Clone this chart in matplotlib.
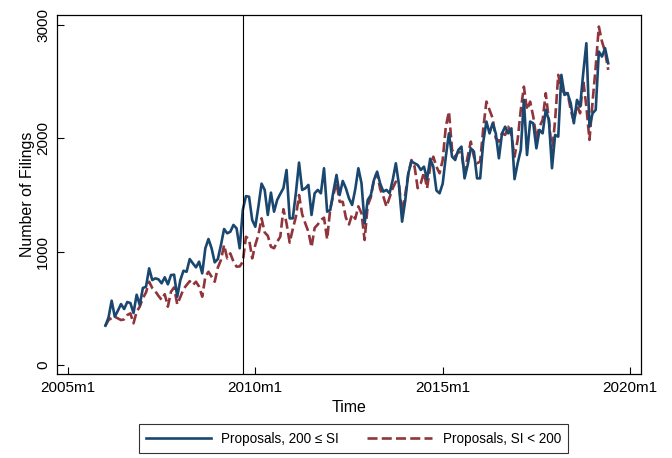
import numpy as np
import matplotlib
matplotlib.use("Agg")
import matplotlib.pyplot as plt

plt.rcParams['font.family'] = ['Liberation Sans', 'DejaVu Sans']

# Monthly filings; month index counted from 2005m1 (= 0)
start_month = 12   # 2006m1
event_month = 56   # 2009m9

large_si = [
    347, 420, 568, 426, 480, 538, 494, 556, 547, 459, 620, 530,
    680, 691, 853, 750, 765, 756, 721, 774, 712, 794, 797, 603,
    750, 832, 823, 935, 897, 862, 912, 809, 1030, 1112, 1030, 906,
    935, 1059, 1200, 1162, 1176, 1236, 1206, 1030, 1370, 1490, 1485, 1280,
    1220, 1400, 1600, 1545, 1324, 1521, 1353, 1456, 1510, 1560, 1721, 1294,
    1294, 1520, 1786, 1545, 1559, 1589, 1324, 1515, 1545, 1515, 1736, 1353,
    1368, 1530, 1677, 1500, 1624, 1560, 1470, 1412, 1550, 1736, 1604, 1250,
    1456, 1500, 1633, 1706, 1600, 1530, 1545, 1515, 1633, 1780, 1589, 1265,
    1450, 1692, 1795, 1780, 1765, 1721, 1750, 1640, 1820, 1750, 1540, 1515,
    1600, 1838, 2044, 1838, 1809, 1897, 1927, 1647, 1765, 1912, 1883, 1647,
    1647, 1971, 2148, 2044, 2133, 2044, 1824, 2044, 2103, 2044, 2088, 1640,
    1780, 1897, 2339, 1853, 2148, 2133, 1912, 2074, 2044, 2251, 2162, 1736,
    2030, 2015, 2560, 2383, 2398, 2309, 2133, 2339, 2280, 2574, 2839, 2103,
    2221, 2251, 2765, 2721, 2795, 2662,
]

small_si = [
    347, 397, 415, 426, 412, 397, 403, 441, 456, 368, 470, 515,
    590, 640, 735, 680, 650, 610, 575, 625, 515, 647, 685, 535,
    600, 670, 706, 740, 706, 735, 691, 603, 779, 823, 779, 735,
    860, 927, 1059, 941, 985, 912, 868, 870, 912, 1132, 1110, 941,
    1060, 1150, 1294, 1170, 1140, 1044, 1030, 1088, 1132, 1375, 1250, 1080,
    1200, 1309, 1500, 1330, 1250, 1176, 1040, 1210, 1240, 1280, 1300, 1110,
    1380, 1500, 1610, 1440, 1440, 1300, 1240, 1330, 1290, 1400, 1339, 1103,
    1410, 1480, 1640, 1692, 1550, 1486, 1397, 1480, 1560, 1618, 1589, 1350,
    1500, 1690, 1809, 1750, 1560, 1604, 1700, 1559, 1750, 1838, 1750, 1692,
    1809, 2103, 2236, 1900, 1838, 1883, 1870, 1692, 1838, 1971, 1838, 1780,
    1795, 2088, 2324, 2251, 2177, 2000, 1971, 2044, 2030, 2103, 2030, 1838,
    1986, 2250, 2456, 2250, 2324, 2192, 2000, 2103, 2162, 2398, 2162, 1868,
    2162, 2560, 2427, 2400, 2398, 2251, 2148, 2295, 2221, 2515, 2280, 1986,
    2324, 2633, 2986, 2854, 2765, 2604,
]

x_ticks = [0, 60, 120, 180]
x_tick_labels = ["2005m1", "2010m1", "2015m1", "2020m1"]
y_ticks = [0, 1000, 2000, 3000]

navy = "#1a476f"
maroon = "#90353b"

months = start_month + np.arange(len(large_si))

fig = plt.figure(figsize=(6.72, 4.58), dpi=100)
ax = fig.add_axes([57 / 672, 1 - 374 / 458, (641 - 57) / 672, (374 - 15) / 458])

ax.plot(months, large_si, color=navy, lw=1.9, solid_joinstyle="round",
        label="Proposals, 200 \u2264 SI", zorder=3)
ax.plot(months, small_si, color=maroon, lw=1.9, dashes=(3.8, 1.6),
        label="Proposals, SI < 200", zorder=2)
ax.axvline(event_month, color="black", lw=0.8, zorder=4)

ax.set_xlim(-3.5, 183.5)
ax.set_ylim(-79, 3088)
ax.set_xticks(x_ticks)
ax.set_xticklabels(x_tick_labels)
ax.set_yticks(y_ticks)
ax.set_yticklabels([str(v) for v in y_ticks], rotation=90, va="center")
ax.tick_params(direction="in", length=4.7, width=0.8, labelsize=11, pad=5)
for s in ax.spines.values():
    s.set_linewidth(0.9)

ax.set_xlabel("Time", fontsize=11.5, labelpad=4)
ax.set_ylabel("Number of Filings", fontsize=11.5, labelpad=1)

leg = fig.legend(loc="center", bbox_to_anchor=(353.5 / 672, 19.5 / 458), ncol=2,
                 fontsize=9.75, frameon=True, fancybox=False, handlelength=4.8,
                 handletextpad=0.75, columnspacing=2.1, borderpad=0.55,
                 borderaxespad=0)
leg.get_frame().set_edgecolor("black")
leg.get_frame().set_linewidth(0.8)

fig.savefig("out.png", dpi=100)
